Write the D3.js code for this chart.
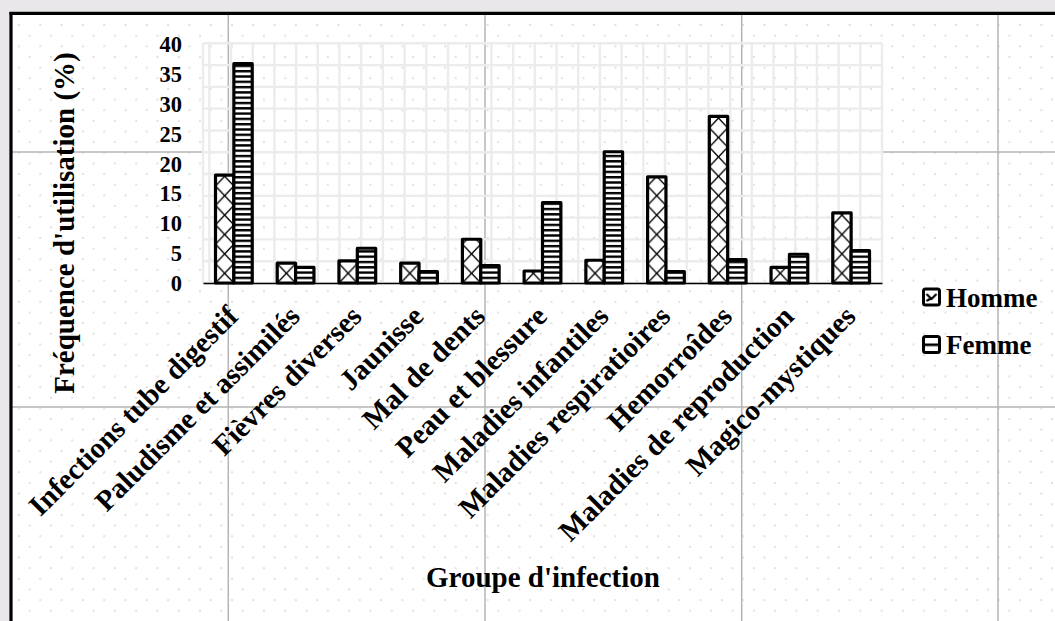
<!DOCTYPE html>
<html>
<head>
<meta charset="utf-8">
<script src="https://cdn.jsdelivr.net/npm/d3@7"></script>
<style>
  html, body { margin: 0; padding: 0; background: #ffffff; }
  svg { display: block; }
  text { font-family: "Liberation Serif", "Times New Roman", serif; font-weight: bold; fill: #000; }
</style>
</head>
<body>
<svg id="chart" width="1055" height="621"></svg>
<script>
const categories = [
  "Infections tube digestif", "Paludisme et assimilés", "Fièvres diverses", "Jaunisse",
  "Mal de dents", "Peau et blessure", "Maladies infantiles", "Maladies respiratioires",
  "Hemorroîdes", "Maladies de reproduction", "Magico-mystiques"
];
const series = ["Homme", "Femme"];
const homme = [18.0, 3.3, 3.7, 3.3, 7.3, 2.0, 3.8, 17.7, 27.8, 2.6, 11.7];
const femme = [36.6, 2.6, 5.8, 1.9, 2.9, 13.4, 21.9, 1.9, 3.9, 4.8, 5.4];
const yTicks = [0, 5, 10, 15, 20, 25, 30, 35, 40];
const yTitle = "Fréquence d'utilisation (%)";
const xTitle = "Groupe d'infection";

const W = 1055, H = 621;
const svg = d3.select("#chart");
const defs = svg.append("defs");

// ---- sheet background (outside chart, dots, page guides)
svg.append("rect").attr("x", 0).attr("y", 0).attr("width", W).attr("height", H).attr("fill", "#e9e7e9");
svg.append("rect").attr("x", 11).attr("y", 13.5).attr("width", W).attr("height", H).attr("fill", "#ffffff");

const dotStep = 21.3;
const dotG = svg.append("g");
for (let yy = 25 - dotStep * 2; yy < H; yy += dotStep) {
  for (let xx = 19 - dotStep; xx < W; xx += dotStep) {
    [[xx, yy], [xx + dotStep / 2, yy + dotStep / 2]].forEach(([dx, dy]) => {
      if (dx > 13 && dy > 16 && dx < W && dy < H)
        dotG.append("rect").attr("x", dx - 1).attr("y", dy - 1).attr("width", 2).attr("height", 2).attr("fill", "#e2e2e2");
    });
  }
}
// page guides
const guideX = [228.3, 485, 741.7, 998];
const guideY = [152, 407];
guideX.forEach(gx => svg.append("line").attr("x1", gx).attr("x2", gx).attr("y1", 14).attr("y2", H)
  .attr("stroke", "#b4b4b4").attr("stroke-width", 1.5));
guideY.forEach(gy => svg.append("line").attr("x1", 12).attr("x2", W).attr("y1", gy).attr("y2", gy)
  .attr("stroke", "#b4b4b4").attr("stroke-width", 1.5));

// chart border (top + left visible)
svg.append("line").attr("x1", 9.5).attr("x2", W).attr("y1", 13.3).attr("y2", 13.3).attr("stroke", "#000").attr("stroke-width", 3.2);
svg.append("line").attr("x1", 11).attr("x2", 11).attr("y1", 12).attr("y2", H).attr("stroke", "#000").attr("stroke-width", 3.2);

// ---- plot area
const plot = { left: 203, right: 882, top: 43.3, bottom: 283 };
const x0 = d3.scaleBand().domain(categories).range([plot.left, plot.right]).paddingInner(0.405).paddingOuter(0.2025);
const x1 = d3.scaleBand().domain(series).range([0, x0.bandwidth()]);
const y = d3.scaleLinear().domain([0, 40]).range([plot.bottom, plot.top]);

// plot gridlines (light grey cell grid)
const gridG = svg.append("g").attr("stroke", "#ececec").attr("stroke-width", 2.4);
const hStep = (plot.bottom - plot.top) / 11;
for (let k = 0; k <= 11; k++) {
  const gy = plot.top + k * hStep;
  gridG.append("line").attr("x1", plot.left).attr("x2", plot.right).attr("y1", gy).attr("y2", gy);
}
const vStep = (plot.right - 209.3) / 31;
gridG.append("line").attr("x1", plot.left).attr("x2", plot.left).attr("y1", plot.top).attr("y2", plot.bottom);
for (let k = 0; k <= 31; k++) {
  const gx = 209.3 + k * vStep;
  gridG.append("line").attr("x1", gx).attr("x2", gx).attr("y1", plot.top).attr("y2", plot.bottom);
}

// ---- patterns
function hommePattern(id, px, py) {
  const pw = x1.bandwidth(), ph = 19.4;
  const p = defs.append("pattern").attr("id", id).attr("patternUnits", "userSpaceOnUse")
    .attr("x", px).attr("y", py).attr("width", pw).attr("height", ph);
  p.append("rect").attr("width", pw).attr("height", ph).attr("fill", "#fff");
  p.append("line").attr("x1", 0).attr("y1", ph).attr("x2", pw).attr("y2", 0).attr("stroke", "#000").attr("stroke-width", 1.4);
  p.append("line").attr("x1", 0).attr("y1", 0).attr("x2", pw).attr("y2", ph).attr("stroke", "#000").attr("stroke-width", 1.4);
}
function femmePattern(id, px, py) {
  const ph = 5.3;
  const p = defs.append("pattern").attr("id", id).attr("patternUnits", "userSpaceOnUse")
    .attr("x", px).attr("y", py).attr("width", 40).attr("height", ph);
  p.append("rect").attr("width", 40).attr("height", ph).attr("fill", "#fff");
  p.append("rect").attr("y", 0).attr("width", 40).attr("height", 2.4).attr("fill", "#000");
}

// ---- bars
const barsG = svg.append("g");
categories.forEach((c, i) => {
  const vals = { Homme: homme[i], Femme: femme[i] };
  series.forEach(s => {
    const bx = x0(c) + x1(s);
    const by = y(vals[s]);
    const id = `pat-${s}-${i}`;
    if (s === "Homme") hommePattern(id, bx, plot.bottom); else femmePattern(id, bx, plot.bottom - 1);
    barsG.append("rect")
      .attr("x", bx).attr("y", by)
      .attr("width", x1.bandwidth()).attr("height", y(0) - by)
      .attr("fill", `url(#${id})`)
      .attr("stroke", "#000").attr("stroke-width", 3.2).attr("stroke-linejoin", "round");
  });
});

// ---- axes
const xAxis = svg.append("g").attr("transform", `translate(0,${plot.bottom})`)
  .call(d3.axisBottom(x0).tickSize(0).tickFormat(""));
xAxis.select(".domain").attr("stroke", "#000").attr("stroke-width", 1.6);

categories.forEach(c => {
  const cx = x0(c) + x0.bandwidth() / 2;
  svg.append("text")
    .attr("transform", `translate(${cx + 6},${plot.bottom + 35}) rotate(-45)`)
    .attr("text-anchor", "end")
    .style("font-size", "29px")
    .text(c);
});

const yAxis = svg.append("g").attr("transform", `translate(182,0)`)
  .call(d3.axisLeft(y).tickValues(yTicks).tickSize(0).tickPadding(0));
yAxis.select(".domain").remove();
yAxis.selectAll("text")
  .style("font-family", "'Liberation Serif', serif").style("font-weight", "bold")
  .style("font-size", "22.5px").attr("fill", "#000").attr("dy", "0.35em");

// titles
svg.append("text").attr("transform", `translate(74,223) rotate(-90)`)
  .attr("text-anchor", "middle").style("font-size", "29px").text(yTitle);
svg.append("text").attr("x", 543).attr("y", 587)
  .attr("text-anchor", "middle").style("font-size", "29px").text(xTitle);

// ---- legend
const legend = svg.append("g");
series.forEach((s, i) => {
  const ly = 297 + i * 47.5;
  const id = `leg-${s}`;
  const p = defs.append("pattern").attr("id", id).attr("patternUnits", "userSpaceOnUse")
    .attr("x", 923.5).attr("y", ly - 8).attr("width", 16).attr("height", 16);
  p.append("rect").attr("width", 16).attr("height", 16).attr("fill", "#fff");
  if (s === "Homme") {
    p.append("path").attr("d", "M3,5 L8,10 L13,5 M3,12 L8,9").attr("stroke", "#000").attr("stroke-width", 2.2).attr("fill", "none");
  } else {
    p.append("rect").attr("y", 7).attr("width", 16).attr("height", 2.6).attr("fill", "#000");
  }
  legend.append("rect").attr("x", 923.5).attr("y", ly - 8).attr("width", 16).attr("height", 16)
    .attr("fill", `url(#${id})`).attr("stroke", "#000").attr("stroke-width", 3).attr("rx", 2);
  legend.append("text").attr("x", 946).attr("y", ly + 9.5)
    .style("font-size", "27px").text(s);
});
</script>
</body>
</html>
